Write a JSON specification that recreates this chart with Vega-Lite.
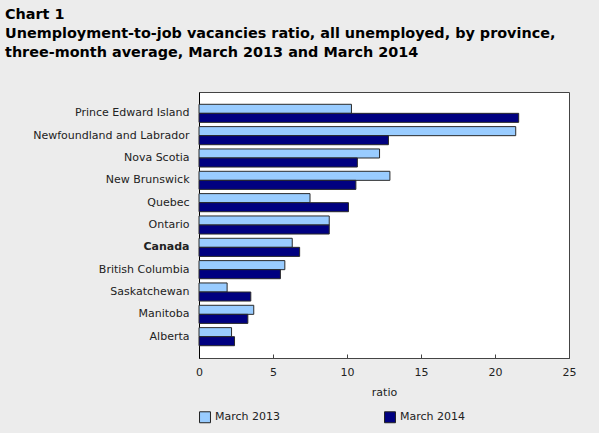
{
  "$schema": "https://vega.github.io/schema/vega-lite/v6.json",
  "width": 370,
  "height": 266,
  "autosize": {"type": "none"},
  "padding": {"left": 199, "top": 92, "right": 30, "bottom": 75},
  "background": "#ececec",
  "title": {
    "text": [
      "Chart 1",
      "Unemployment-to-job vacancies ratio, all unemployed, by province,",
      "three-month average, March 2013 and March 2014"
    ],
    "anchor": "start",
    "frame": "group",
    "font": "DejaVu Sans",
    "fontSize": 14.4,
    "fontWeight": "bold",
    "color": "#000000",
    "lineHeight": 19,
    "dx": -194,
    "offset": 32
  },
  "data": {
    "values": [
      {"province": "Prince Edward Island", "period": "March 2013", "ratio": 10.3},
      {"province": "Prince Edward Island", "period": "March 2014", "ratio": 21.6},
      {"province": "Newfoundland and Labrador", "period": "March 2013", "ratio": 21.4},
      {"province": "Newfoundland and Labrador", "period": "March 2014", "ratio": 12.8},
      {"province": "Nova Scotia", "period": "March 2013", "ratio": 12.2},
      {"province": "Nova Scotia", "period": "March 2014", "ratio": 10.7},
      {"province": "New Brunswick", "period": "March 2013", "ratio": 12.9},
      {"province": "New Brunswick", "period": "March 2014", "ratio": 10.6},
      {"province": "Quebec", "period": "March 2013", "ratio": 7.5},
      {"province": "Quebec", "period": "March 2014", "ratio": 10.1},
      {"province": "Ontario", "period": "March 2013", "ratio": 8.8},
      {"province": "Ontario", "period": "March 2014", "ratio": 8.8},
      {"province": "Canada", "period": "March 2013", "ratio": 6.3},
      {"province": "Canada", "period": "March 2014", "ratio": 6.8},
      {"province": "British Columbia", "period": "March 2013", "ratio": 5.8},
      {"province": "British Columbia", "period": "March 2014", "ratio": 5.5},
      {"province": "Saskatchewan", "period": "March 2013", "ratio": 1.9},
      {"province": "Saskatchewan", "period": "March 2014", "ratio": 3.5},
      {"province": "Manitoba", "period": "March 2013", "ratio": 3.7},
      {"province": "Manitoba", "period": "March 2014", "ratio": 3.3},
      {"province": "Alberta", "period": "March 2013", "ratio": 2.2},
      {"province": "Alberta", "period": "March 2014", "ratio": 2.4}
    ]
  },
  "mark": {"type": "bar", "stroke": "#2a2a2a", "strokeWidth": 1},
  "encoding": {
    "y": {
      "field": "province",
      "type": "nominal",
      "sort": null,
      "scale": {"paddingInner": 0.19, "paddingOuter": 0.55},
      "axis": {
        "title": null,
        "ticks": false,
        "domain": true,
        "domainColor": "#000000",
        "labelFont": "DejaVu Sans",
        "labelFontSize": 11,
        "labelColor": "#222222",
        "labelPadding": 10,
        "labelFontWeight": {"condition": {"test": "datum.value == 'Canada'", "value": "bold"}, "value": "normal"}
      }
    },
    "yOffset": {"field": "period", "type": "nominal", "scale": {"paddingInner": 0, "paddingOuter": 0}},
    "x": {
      "field": "ratio",
      "type": "quantitative",
      "scale": {"domain": [0, 25], "nice": false},
      "axis": {
        "title": "ratio",
        "values": [0, 5, 10, 15, 20, 25],
        "grid": false,
        "tickSize": -4,
        "tickColor": "#444444",
        "domainColor": "#444444",
        "labelFlush": false,
        "labelFont": "DejaVu Sans",
        "labelFontSize": 11,
        "labelColor": "#222222",
        "labelPadding": 12,
        "titleFont": "DejaVu Sans",
        "titleFontSize": 11,
        "titleFontWeight": "normal",
        "titleColor": "#222222",
        "titlePadding": 9
      }
    },
    "fill": {
      "field": "period",
      "type": "nominal",
      "scale": {"domain": ["March 2013", "March 2014"], "range": ["#99ccff", "#000080"]},
      "legend": {
        "title": null,
        "orient": "none",
        "legendX": 0,
        "legendY": 319,
        "direction": "horizontal",
        "symbolType": "square",
        "symbolSize": 120,
        "symbolStrokeColor": "#222222",
        "symbolStrokeWidth": 1,
        "labelFont": "DejaVu Sans",
        "labelFontSize": 11,
        "labelColor": "#222222",
        "labelOffset": 4,
        "columnPadding": 101
      }
    }
  },
  "config": {
    "view": {"fill": "#ffffff", "stroke": "#444444", "strokeWidth": 1}
  }
}
